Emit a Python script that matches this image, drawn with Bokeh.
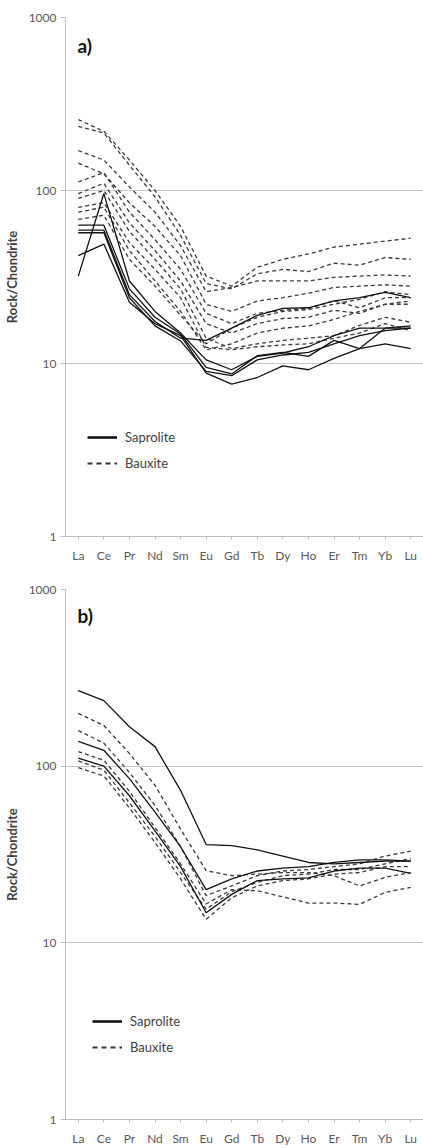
from bokeh.plotting import figure
from bokeh.models import (Range1d, FactorRange, FixedTicker, NumeralTickFormatter,
                          Label, Legend, LegendItem)
from bokeh.layouts import column
from bokeh.embed import file_html
from bokeh.resources import INLINE

elements = ["La", "Ce", "Pr", "Nd", "Sm", "Eu", "Gd", "Tb", "Dy", "Ho", "Er", "Tm", "Yb", "Lu"]
y_ticks = [1, 10, 100, 1000]

# Panel a) - saprolite (solid)
a_saprolite = [
    [32, 96, 30, 20, 15, 10.5, 9.2, 11, 11.5, 12.5, 14.5, 16, 16, 16],
    [42, 49, 22.6, 17, 14.5, 8.8, 7.6, 8.3, 9.7, 9.2, 10.7, 12.2, 16, 16.5],
    [63, 63, 27, 18.5, 14.8, 9.5, 8.7, 11.1, 11.6, 11, 13.6, 12.2, 13, 12.2],
    [59, 59, 25, 17.5, 14, 13.6, 16, 19, 20.8, 21, 23, 24, 25.8, 24],
    [57, 57, 24, 16.5, 13.5, 9.0, 8.5, 10.5, 11.2, 11.6, 13.0, 14.5, 15.5, 16],
]
# Panel a) - bauxite (dashed)
a_bauxite = [
    [257, 220, 150, 100, 62, 32, 28, 36, 40, 43, 47, 49, 51, 53],
    [235, 215, 140, 92, 55, 29, 27, 33, 35, 34, 38, 37, 41, 40],
    [170, 150, 105, 75, 48, 26, 27.5, 30, 30, 30, 31.5, 32, 32.5, 32],
    [144, 125, 85, 62, 42, 22, 20, 23, 24, 25.5, 27.5, 28, 28.5, 28],
    [112, 127, 75, 52, 35, 19.5, 17, 19.5, 20.3, 20.8, 23, 21, 24, 24],
    [96, 110, 65, 45, 30, 17, 15, 17, 18.2, 18.5, 20.3, 19.5, 22, 23],
    [90, 100, 58, 40, 27, 14, 12.2, 13, 13.6, 14, 14.5, 16.6, 18.5, 17.3],
    [80, 85, 50, 35, 24, 12.4, 12, 12.5, 12.8, 13, 14, 15, 17, 15.5],
    [75, 80, 45, 30, 20, 12, 13, 15, 16, 16.5, 18, 20, 22, 22],
    [68, 72, 40, 28, 19, 13, 16, 18.5, 20, 20.5, 22, 23.5, 26, 25],
]

# Panel b) - saprolite (solid)
b_saprolite = [
    [268, 235, 167, 129, 73, 36, 35.5, 33.6, 31, 28.5, 28, 28.5, 29, 29],
    [138, 123, 85, 55, 35, 20, 23, 25.5, 26.5, 27, 28.5, 29.5, 29.5, 29],
    [111, 100, 68, 43, 27, 14.8, 18.8, 22.5, 23, 23.3, 25.5, 26.5, 26.5, 24.7],
]
# Panel b) - bauxite (dashed)
b_bauxite = [
    [199, 170, 118, 78, 44, 25.6, 24, 24.5, 25, 25, 24, 21, 23.5, 25],
    [159, 135, 92, 60, 35, 18.5, 21, 24, 25.5, 26, 27, 28, 31, 33],
    [121, 108, 72, 45, 28, 16.6, 20, 19.7, 18.2, 16.8, 16.8, 16.5, 19.3, 20.6],
    [107, 95, 62, 40, 25, 15.5, 19.5, 22, 24, 24.5, 26, 26, 28, 30],
    [98, 88, 58, 37, 23, 13.6, 18, 21, 22.5, 23, 24.5, 25, 27, 27],
]

legend_labels = ["Saprolite", "Bauxite"]

FONT = "Lato"
NAN = float("nan")


def make_panel(tag, saprolite, bauxite, height, top, bottom, left, legend_xy):
    p = figure(width=423, height=height,
               x_range=FactorRange(*elements), y_range=Range1d(1, 1000),
               y_axis_type="log", output_backend="svg", toolbar_location=None,
               min_border_left=left, min_border_right=0,
               min_border_top=top, min_border_bottom=bottom)
    p.background_fill_color = "white"
    p.border_fill_color = "white"
    p.outline_line_color = None

    ticker = FixedTicker(ticks=y_ticks)
    p.yaxis.ticker = ticker
    p.ygrid.ticker = ticker
    p.yaxis.formatter = NumeralTickFormatter(format="0")
    p.xgrid.grid_line_color = None
    p.ygrid.grid_line_color = "#c6c6c6"
    p.ygrid.grid_line_width = 1

    p.axis.axis_line_color = "#bdbdbd"
    p.axis.major_tick_line_color = "#bdbdbd"
    p.axis.minor_tick_line_color = None
    p.axis.major_tick_in = 0
    p.yaxis.major_tick_out = 5
    p.xaxis.major_tick_out = 3
    p.axis.major_label_text_font = FONT
    p.axis.major_label_text_font_size = "12px"
    p.axis.major_label_text_color = "#595959"
    p.yaxis.major_label_standoff = 4
    p.xaxis.major_label_standoff = 8

    p.yaxis.axis_label = "Rock/Chondrite"
    p.yaxis.axis_label_text_font = FONT
    p.yaxis.axis_label_text_font_size = "13px"
    p.yaxis.axis_label_text_font_style = "bold"
    p.yaxis.axis_label_text_color = "#404040"
    p.yaxis.axis_label_standoff = 6

    for vals in bauxite:
        p.line(elements, vals, line_color="#3a3a3a", line_width=1.3, line_dash="4 3")
    for vals in saprolite:
        p.line(elements, vals, line_color="#111111", line_width=1.3)

    # legend-only renderers (NaN values draw nothing in the plot)
    leg_s = p.line(elements[:2], [NAN, NAN], line_color="#111111", line_width=2.6)
    leg_b = p.line(elements[:2], [NAN, NAN], line_color="#333333", line_width=2.0, line_dash="5 4")
    legend = Legend(items=[LegendItem(label=legend_labels[0], renderers=[leg_s]),
                           LegendItem(label=legend_labels[1], renderers=[leg_b])],
                    location=legend_xy, padding=0, margin=0, spacing=8,
                    glyph_width=30, glyph_height=18, label_height=18,
                    label_standoff=8, border_line_color=None,
                    background_fill_alpha=0,
                    label_text_font=FONT, label_text_font_size="13px",
                    label_text_color="#404040")
    p.add_layout(legend)

    p.add_layout(Label(x=12, y=height - top - bottom - 28, x_units="screen", y_units="screen",
                       text=tag, text_font=FONT, text_font_size="19px",
                       text_font_style="bold", text_color="#111111",
                       text_baseline="middle"))
    return p


pa = make_panel("a)", a_saprolite, a_bauxite, 570, 17, 34, 60, (22, 64))
pb = make_panel("b)", b_saprolite, b_bauxite, 578, 19, 27, 58, (27, 63))

layout = column(pa, pb, spacing=0)
open("out.html", "w").write(file_html(layout, INLINE))
